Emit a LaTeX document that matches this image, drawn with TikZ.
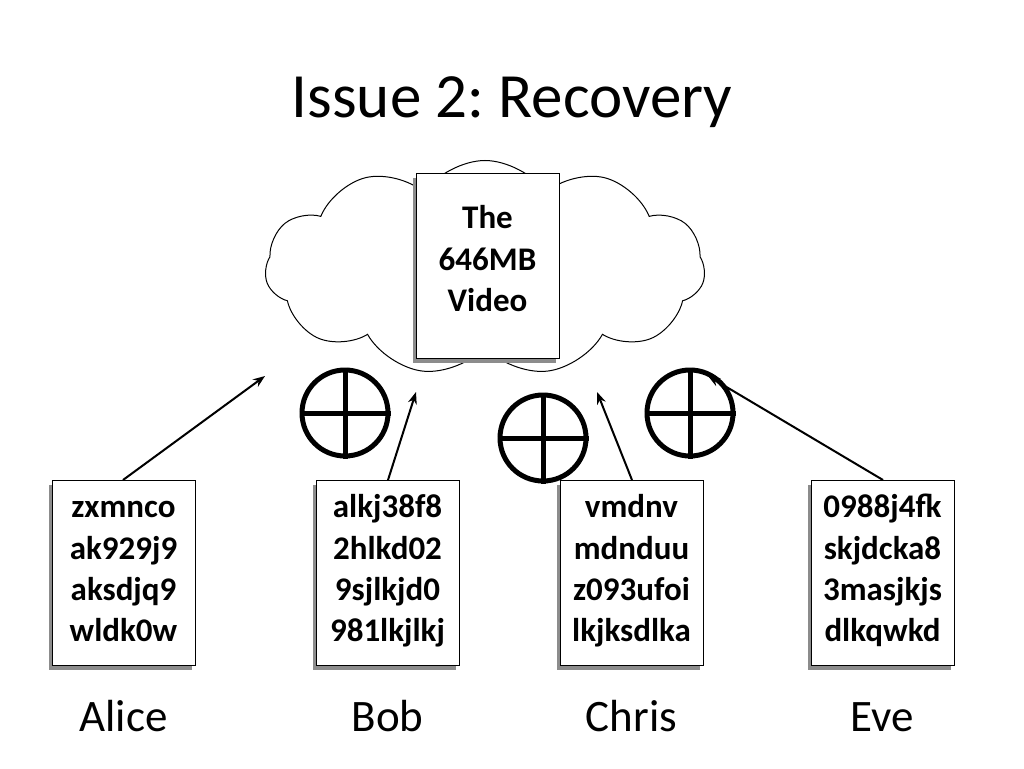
\documentclass[tikz,border=0pt]{standalone}
\usepackage{fontspec}
\setmainfont{Carlito}
\frenchspacing
\usetikzlibrary{shapes.symbols,arrows.meta}
\begin{document}
\begin{tikzpicture}[x=1pt,y=-1pt,
 box/.style={draw,fill=white,line width=1pt,minimum width=143pt,minimum height=185pt,anchor=north west,inner sep=0pt},
 shadowed/.style={preaction={fill=black!45,transform canvas={xshift=-4pt,yshift=-4pt}}},
 txt/.style={font=\fontsize{33}{38}\selectfont\bfseries,anchor=base},
 personlbl/.style={font=\fontsize{45}{50}\selectfont,anchor=base},
 arr/.style={-{Stealth[length=12pt,width=9pt]},line width=2pt},
 xor/.style={circle,draw,line width=5pt,minimum size=86pt,inner sep=0pt}]
\useasboundingbox (0,0) rectangle (1024,768);
\node[font=\fontsize{63}{70}\selectfont,anchor=base] (title) at (512,117) {Issue 2: Recovery};
\node[cloud,cloud puffs=11,cloud puff arc=110,aspect=2.1,draw,line width=1pt,minimum width=440pt,minimum height=215pt] (cloud) at (485,268) {};
\node[box,shadowed,minimum height=185pt] (video) at (416,173) {};
\node[txt] (v1) at (487.5,228) {The};
\node[txt] (v2) at (487.5,270) {646MB};
\node[txt] (v3) at (487.5,311) {Video};
\foreach \n/\x/\a/\b/\c/\d/\nm in {a/52/zxmnco/ak929j9/aksdjq9/wldk0w/Alice,b/316/alkj38f8/2hlkd02/9sjlkjd0/981lkjlkj/Bob,c/560/vmdnv/mdnduu/z093ufoi/lkjksdlka/Chris,e/811/0988j4fk/skjdcka8/3masjkjs/dlkqwkd/Eve}{
 \node[box,shadowed] (\n) at (\x,480) {};
 \node[txt] (\n 1) at (\x+71.5,517) {\a};
 \node[txt] (\n 2) at (\x+71.5,559) {\b};
 \node[txt] (\n 3) at (\x+71.5,600) {\c};
 \node[txt] (\n 4) at (\x+71.5,641) {\d};
 \node[personlbl] (\n n) at (\x+71.5,731) {\nm};
}
\coordinate (pa) at (265,376);
\coordinate (pb) at (416,392);
\coordinate (pc) at (597,392);
\coordinate (pe) at (708,376);
\draw[arr] ([xshift=-1pt]a.north) -- (pa);
\draw[arr] (b.north) -- (pb);
\draw[arr] (c.north) -- (pc);
\draw[arr] (e.north) -- (pe);
\foreach \n/\x/\y in {x1/345/413,x2/543/438,x3/690/413}{
 \node[xor] (\n) at (\x,\y) {};
 \draw[line width=5pt] (\n.north) -- (\n.south) (\n.west) -- (\n.east);
}
\end{tikzpicture}
\end{document}
